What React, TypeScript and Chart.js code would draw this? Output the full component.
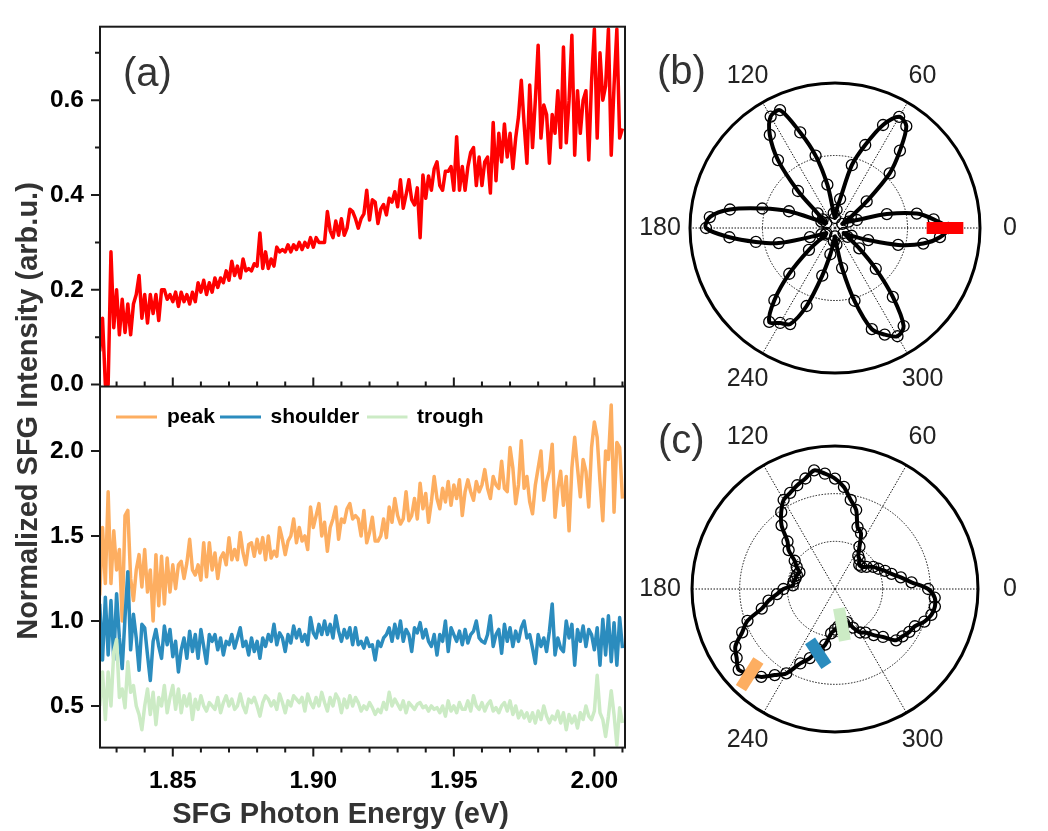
import React, { useEffect, useRef } from "react";
import { Chart, registerables } from "chart.js";

Chart.register(...registerables);

const energy = [
  1.824,1.825,1.826,1.827,1.828,1.829,1.83,1.831,1.832,1.833,
  1.834,1.835,1.836,1.837,1.838,1.839,1.84,1.841,1.842,1.843,
  1.844,1.845,1.846,1.847,1.848,1.849,1.85,1.851,1.852,1.853,
  1.854,1.855,1.856,1.857,1.858,1.859,1.86,1.861,1.862,1.863,
  1.864,1.865,1.866,1.867,1.868,1.869,1.87,1.871,1.872,1.873,
  1.874,1.875,1.876,1.877,1.878,1.879,1.88,1.881,1.882,1.883,
  1.884,1.885,1.886,1.887,1.888,1.889,1.89,1.891,1.892,1.893,
  1.894,1.895,1.896,1.897,1.898,1.899,1.9,1.901,1.902,1.903,
  1.904,1.905,1.906,1.907,1.908,1.909,1.91,1.911,1.912,1.913,
  1.914,1.915,1.916,1.917,1.918,1.919,1.92,1.921,1.922,1.923,
  1.924,1.925,1.926,1.927,1.928,1.929,1.93,1.931,1.932,1.933,
  1.934,1.935,1.936,1.937,1.938,1.939,1.94,1.941,1.942,1.943,
  1.944,1.945,1.946,1.947,1.948,1.949,1.95,1.951,1.952,1.953,
  1.954,1.955,1.956,1.957,1.958,1.959,1.96,1.961,1.962,1.963,
  1.964,1.965,1.966,1.967,1.968,1.969,1.97,1.971,1.972,1.973,
  1.974,1.975,1.976,1.977,1.978,1.979,1.98,1.981,1.982,1.983,
  1.984,1.985,1.986,1.987,1.988,1.989,1.99,1.991,1.992,1.993,
  1.994,1.995,1.996,1.997,1.998,1.999,2.0,2.001,2.002,2.003,
  2.004,2.005,2.006,2.007,2.008,2.009,2.01,
];

const sfgRed = [
  .07,.14,.00,.00,.28,.12,.20,.105,.18,.11,
  .17,.105,.17,.19,.23,.14,.19,.13,.19,.15,
  .19,.135,.20,.20,.18,.19,.175,.195,.165,.195,
  .175,.19,.17,.195,.175,.215,.195,.22,.19,.215,
  .195,.225,.205,.225,.215,.24,.22,.26,.23,.25,
  .225,.265,.24,.245,.24,.255,.25,.32,.245,.28,
  .245,.265,.25,.29,.28,.285,.28,.295,.28,.295,
  .285,.30,.285,.30,.29,.31,.29,.31,.30,.30,
  .30,.365,.325,.31,.345,.315,.35,.315,.33,.37,
  .365,.35,.33,.35,.36,.41,.347,.39,.385,.34,
  .37,.38,.358,.393,.385,.407,.375,.432,.372,.40,
  .432,.39,.379,.415,.31,.442,.393,.44,.41,.455,
  .47,.42,.41,.45,.45,.46,.41,.523,.41,.46,
  .41,.46,.49,.50,.42,.48,.42,.47,.48,.404,
  .553,.43,.53,.47,.55,.48,.53,.456,.52,.565,
  .642,.55,.467,.632,.50,.60,.716,.52,.59,.57,
  .467,.57,.53,.62,.50,.712,.51,.60,.737,.484,
  .62,.53,.60,.62,.474,.64,.75,.52,.70,.60,
  .63,.75,.484,.63,.75,.52,.54,
];

const peak = [
  1.15,1.55,1.22,1.76,1.22,1.53,1.30,1.42,1.00,1.62,
  1.65,1.25,1.12,1.30,1.39,1.20,1.42,1.17,1.30,1.00,
  1.39,1.09,1.38,1.10,1.37,1.17,1.33,1.19,1.33,1.35,
  1.25,1.34,1.48,1.30,1.27,1.33,1.24,1.46,1.26,1.46,
  1.30,1.40,1.25,1.37,1.40,1.33,1.49,1.36,1.42,1.36,
  1.52,1.40,1.33,1.45,1.46,1.38,1.48,1.40,1.49,1.36,
  1.50,1.37,1.41,1.38,1.55,1.48,1.39,1.47,1.50,1.60,
  1.46,1.55,1.47,1.50,1.42,1.67,1.55,1.62,1.69,1.50,
  1.58,1.41,1.55,1.60,1.67,1.48,1.60,1.58,1.66,1.69,
  1.60,1.62,1.60,1.50,1.65,1.46,1.52,1.61,1.47,1.47,
  1.50,1.60,1.49,1.67,1.58,1.72,1.62,1.57,1.60,1.76,
  1.59,1.62,1.72,1.60,1.81,1.66,1.75,1.58,1.70,1.85,
  1.72,1.66,1.78,1.70,1.82,1.68,1.80,1.72,1.83,1.62,
  1.76,1.83,1.76,1.71,1.82,1.76,1.80,1.89,1.78,1.72,
  1.85,1.80,1.78,1.94,1.78,1.76,2.02,1.90,1.69,1.80,
  2.06,1.78,1.85,1.70,1.63,1.80,1.90,2.00,1.71,1.82,
  1.88,2.04,1.61,1.78,1.88,1.68,1.85,1.53,1.90,2.08,
  1.90,1.73,1.95,1.88,1.67,2.02,2.17,2.08,1.82,1.59,
  2.00,1.95,2.27,1.64,2.05,2.02,1.72,
];

const shoulder = [
  1.10,.77,1.14,.80,1.12,.77,1.16,.90,.72,1.02,
  1.29,.83,1.04,.90,.71,.98,.96,.80,.65,.88,
  .95,.85,.78,.97,.86,.95,.79,.88,.70,.83,
  .90,.78,.94,.82,.92,.78,.95,.85,.75,.92,
  .88,.92,.83,.90,.80,.88,.86,.92,.84,.90,
  .96,.85,.88,.80,.90,.82,.88,.78,.90,.85,
  .92,.88,.98,.86,.93,.90,.82,.92,.87,.97,
  .90,.95,.88,.92,.86,1.02,.93,.90,.98,.92,
  1.00,.92,.98,.90,1.03,.94,.88,.95,.90,.96,
  .86,.96,.86,.88,.84,.90,.85,.86,.77,.88,
  .85,.90,.92,.96,.88,.98,.90,1.00,.88,.95,
  .92,.82,.96,.93,.99,.90,.95,.88,.85,.92,
  .80,.92,.88,1.00,.82,.96,.92,.88,.94,.86,
  .95,.87,.92,.94,1.00,.90,.88,.87,.92,1.03,
  .85,.92,.95,.81,.98,.88,.96,.85,.94,.88,
  .96,1.00,.90,.92,.84,.75,.92,.85,.90,.82,
  .94,1.10,.80,.90,.84,.82,1.00,.90,.98,.74,
  .95,.88,.97,.85,.95,.92,.83,.96,.74,1.01,
  .80,1.03,.76,.99,.74,1.02,.84,
];

const trough = [
  .50,.70,.42,.70,.50,.82,.89,.55,.60,.49,
  .76,.58,.62,.50,.45,.36,.50,.60,.45,.58,
  .39,.55,.50,.62,.46,.55,.62,.48,.60,.46,
  .56,.50,.57,.42,.54,.48,.56,.50,.47,.52,
  .50,.48,.55,.46,.52,.56,.50,.54,.48,.50,
  .57,.50,.46,.54,.52,.55,.50,.44,.52,.56,
  .54,.50,.53,.48,.57,.52,.46,.53,.50,.56,
  .54,.52,.55,.47,.57,.52,.49,.55,.50,.58,
  .52,.47,.55,.50,.57,.54,.46,.54,.49,.56,
  .50,.55,.52,.47,.50,.48,.52,.49,.45,.48,
  .46,.52,.48,.58,.50,.54,.51,.48,.53,.46,
  .52,.50,.48,.51,.52,.49,.50,.47,.50,.48,
  .49,.46,.50,.44,.53,.47,.50,.46,.52,.48,
  .48,.53,.47,.56,.50,.48,.52,.47,.51,.53,
  .47,.49,.46,.50,.52,.47,.53,.45,.50,.43,
  .47,.43,.46,.41,.46,.40,.47,.42,.50,.44,
  .40,.44,.42,.47,.40,.46,.36,.45,.40,.44,
  .37,.46,.42,.50,.44,.42,.47,.68,.46,.42,
  .32,.44,.59,.45,.27,.49,.40,
];

const RED = "#ff0000";
const ORANGE = "#fdae61";
const BLUE = "#2b8cbe";
const GREEN = "#ccebc5";

const energyTicks = [1.83,1.84,1.85,1.86,1.87,1.88,1.89,1.9,1.91,1.92,1.93,1.94,1.95,1.96,1.97,1.98,1.99,2.0,2.01];
const energyLabels = [1.85,1.9,1.95,2.0];
const redTicks = [0,0.1,0.2,0.3,0.4,0.5,0.6,0.7];
const redLabels = [0,0.2,0.4,0.6];
const normTicks = [0.5,1.0,1.5,2.0];

// angles run counter-clockwise from 0 in 5-degree steps
const polarAngles = [
  0,5,10,15,20,25,30,35,40,45,50,55,60,65,70,75,80,85,90,95,100,105,110,115,
  120,125,130,135,140,145,150,155,160,165,170,175,180,185,190,195,200,205,210,215,
  220,225,230,235,240,245,250,255,260,265,270,275,280,285,290,295,300,305,310,315,
  320,325,330,335,340,345,350,355,
];
const angleLabels = [0,60,120,180,240,300];

const polarB = [
  3.40,2.97,2.49,1.61,.70,.45,.25,.58,1.24,2.32,3.03,3.73,3.85,3.41,2.65,1.95,.88,.55,.30,.45,
  1.32,2.25,3.05,3.90,3.86,3.41,2.66,1.57,.68,.45,.30,.45,1.47,2.26,3.20,3.77,3.87,3.18,2.41,1.75,
  .80,.45,.30,.35,1.02,1.94,2.83,3.44,3.29,3.18,2.49,1.48,.80,.40,.25,.50,1.22,2.26,3.23,3.53,
  3.75,3.59,2.70,1.73,.95,.46,.30,.55,1.06,1.96,2.69,3.16,
];
const polarC = [
  2.80,2.31,2.01,1.76,1.60,1.44,1.33,1.16,1.04,1.03,1.15,1.22,1.47,1.85,1.98,2.46,2.72,3.08,3.32,3.48,
  3.62,3.44,3.32,3.19,3.09,2.82,2.50,2.02,1.82,1.48,1.33,1.18,1.22,1.23,1.26,1.27,1.55,1.75,2.03,2.28,
  2.80,3.08,3.46,3.61,3.78,3.61,3.45,3.16,2.93,2.47,2.21,1.89,1.70,1.34,1.22,1.13,1.10,1.06,1.06,1.28,
  1.51,1.60,1.81,2.04,2.40,2.48,2.58,2.65,2.86,3.00,3.05,3.01,
];
const ringsB = [0,2.175,4.35];
const ringsC = [0,1.433,2.867,4.3];

const barsB = [{ color: RED, a0: 0, r0: 2.75, a1: 0, r1: 3.85 }];
const barsC = [
  { color: ORANGE, a0: 223, r0: 3.15, a1: 226.5, r1: 4.11 },
  { color: BLUE, a0: 244.3, r0: 1.73, a1: 263.6, r1: 2.32 },
  { color: GREEN, a0: 281.7, r0: .59, a1: 280.9, r1: 1.58 },
];

const yTitle = "Normalized SFG Intensity (arb.u.)";
const xTitle = "SFG Photon Energy (eV)";

const FONT = '"Liberation Sans", Arial, sans-serif';
const INK = "#1a1a1a";
const TEXT = "#333333";

function series(values: number[]) {
  return energy.map((x, i) => ({ x, y: values[i] }));
}

function noScalePadding(s: any) {
  s.paddingTop = 0;
  s.paddingBottom = 0;
  s.paddingLeft = 0;
  s.paddingRight = 0;
}

const leftPlugin = {
  id: "leftFrame",
  afterDatasetsDraw(chart: any) {
    const { ctx, chartArea: a, scales } = chart;
    const { x, yA, yB } = scales;
    ctx.save();
    ctx.strokeStyle = INK;
    ctx.lineWidth = 2;
    ctx.strokeRect(a.left, a.top, a.right - a.left, a.bottom - a.top);
    ctx.beginPath();
    ctx.moveTo(a.left, yA.bottom);
    ctx.lineTo(a.right, yA.bottom);
    for (const t of yA.ticks) {
      const py = yA.getPixelForValue(t.value);
      ctx.moveTo(a.left, py);
      ctx.lineTo(a.left - (redLabels.includes(t.value) ? 9 : 5), py);
    }
    for (const t of yB.ticks) {
      const py = yB.getPixelForValue(t.value);
      ctx.moveTo(a.left, py);
      ctx.lineTo(a.left - 9, py);
    }
    for (const t of x.ticks) {
      const px = x.getPixelForValue(t.value);
      const len = energyLabels.includes(t.value) ? 9 : 5;
      ctx.moveTo(px, a.bottom);
      ctx.lineTo(px, a.bottom + len);
      ctx.moveTo(px, yA.bottom);
      ctx.lineTo(px, yA.bottom - len);
    }
    ctx.stroke();

    // legend
    const slots = [
      { x0: 116, x1: 157, tx: 167 },
      { x0: 220, x1: 261, tx: 270.5 },
      { x0: 367, x1: 407.5, tx: 417 },
    ];
    const ly = 417;
    ctx.font = `bold 21px ${FONT}`;
    ctx.textBaseline = "middle";
    ctx.textAlign = "left";
    chart.data.datasets.slice(1).forEach((d: any, i: number) => {
      const s = slots[i];
      ctx.strokeStyle = d.borderColor;
      ctx.lineWidth = 3;
      ctx.beginPath();
      ctx.moveTo(s.x0, ly);
      ctx.lineTo(s.x1, ly);
      ctx.stroke();
      ctx.fillStyle = "#000";
      ctx.fillText(d.label, s.tx, ly);
    });

    ctx.font = `40px ${FONT}`;
    ctx.fillStyle = TEXT;
    ctx.fillText("(a)", 123, 75);

    ctx.textAlign = "center";
    ctx.font = `bold 29px ${FONT}`;
    ctx.fillText(xTitle, 340.5, 815);

    ctx.translate(29, 411);
    ctx.rotate(-Math.PI / 2);
    ctx.fillText(yTitle, 0, 0);
    ctx.restore();
  },
};

function polarPlugin(bars: any[], panel: string, panelX: number, panelY: number) {
  return {
    id: "polarExtras",
    afterDatasetsDraw(chart: any) {
      const { ctx, scales } = chart;
      const s = scales.r;
      const at = (deg: number, dist: number) => s.getPointPosition(0, dist, (-deg * Math.PI) / 180);
      ctx.save();
      ctx.lineCap = "butt";
      for (const b of bars) {
        const p0 = at(b.a0, s.getDistanceFromCenterForValue(b.r0));
        const p1 = at(b.a1, s.getDistanceFromCenterForValue(b.r1));
        ctx.strokeStyle = b.color;
        ctx.lineWidth = 12;
        ctx.beginPath();
        ctx.moveTo(p0.x, p0.y);
        ctx.lineTo(p1.x, p1.y);
        ctx.stroke();
      }
      ctx.fillStyle = "#222";
      ctx.font = `25px ${FONT}`;
      ctx.textAlign = "center";
      ctx.textBaseline = "middle";
      for (const deg of angleLabels) {
        const p = at(deg, 175);
        ctx.fillText(String(deg), p.x, p.y);
      }
      ctx.font = `40px ${FONT}`;
      ctx.fillStyle = TEXT;
      ctx.textAlign = "left";
      ctx.fillText(panel, panelX, panelY);
      ctx.restore();
    },
  };
}

function clockwise(values: any[]) {
  return [values[0], ...values.slice(1).reverse()];
}

function polarConfig(values: number[], rings: number[], bars: any[], radius: number, panel: string, px: number, py: number) {
  const pad = 200 - radius;
  const outer = rings[rings.length - 1];
  return {
    type: "radar",
    data: {
      labels: clockwise(polarAngles).map(String),
      datasets: [
        {
          label: panel,
          data: clockwise(values),
          borderColor: "#000",
          borderWidth: 4,
          tension: 0.3,
          fill: false,
          pointRadius: 5.5,
          pointBorderWidth: 1.3,
          pointBorderColor: "#000",
          pointBackgroundColor: "rgba(0,0,0,0)",
        },
      ],
    },
    options: {
      responsive: false,
      animation: false,
      events: [],
      layout: { padding: pad, autoPadding: false },
      plugins: { legend: { display: false }, tooltip: { enabled: false } },
      scales: {
        r: {
          min: 0,
          max: outer,
          startAngle: 90,
          afterBuildTicks: (sc: any) => {
            sc.ticks = rings.map((value) => ({ value }));
          },
          ticks: { display: false },
          pointLabels: { display: false },
          angleLines: {
            display: true,
            color: (c: any) => (c.index % 12 === 0 ? "#111" : "rgba(0,0,0,0)"),
            lineWidth: (c: any) => (c.index % 12 === 0 ? 1 : 0),
            borderDash: [1.5, 1.5],
          },
          grid: {
            circular: true,
            color: (c: any) => (c.tick && c.tick.value === outer ? "#000" : "#111"),
            lineWidth: (c: any) => (c.tick && c.tick.value === outer ? 3 : 1),
          },
          border: {
            dash: (c: any) => (c.tick && c.tick.value === outer ? [] : [1.5, 1.5]),
          },
        },
      },
    },
    plugins: [polarPlugin(bars, panel, px, py)],
  };
}

const lineStyle = { borderWidth: 3.5, pointRadius: 0, borderJoinStyle: "round" };

const leftConfig: any = {
  type: "line",
  data: {
    datasets: [
      { label: "SFG", data: series(sfgRed), yAxisID: "yA", borderColor: RED, order: 4, ...lineStyle },
      { label: "peak", data: series(peak), yAxisID: "yB", borderColor: ORANGE, order: 3, ...lineStyle },
      { label: "shoulder", data: series(shoulder), yAxisID: "yB", borderColor: BLUE, order: 2, ...lineStyle },
      { label: "trough", data: series(trough), yAxisID: "yB", borderColor: GREEN, order: 1, ...lineStyle },
    ],
  },
  options: {
    responsive: false,
    animation: false,
    events: [],
    layout: { padding: { top: 26.7, right: 15, left: 0, bottom: 9 }, autoPadding: false },
    plugins: {
      legend: { display: false },
      tooltip: { enabled: false },
      title: { display: false },
    },
    scales: {
      x: {
        type: "linear",
        min: 1.8241,
        max: 2.0109,
        grid: { display: false, drawTicks: false },
        border: { display: false },
        afterBuildTicks: (s: any) => {
          s.ticks = energyTicks.map((value) => ({ value }));
        },
        afterFit: (s: any) => {
          s.height = 74.4;
          noScalePadding(s);
        },
        ticks: {
          autoSkip: false,
          maxRotation: 0,
          minRotation: 0,
          padding: 19,
          color: "#000",
          font: { family: FONT, size: 24.5, weight: "bold" },
          callback: (v: number) => (energyLabels.includes(v) ? v.toFixed(2) : ""),
        },
      },
      yB: {
        type: "linear",
        position: "left",
        stack: "left",
        stackWeight: 361.1,
        min: 0.255,
        max: 2.379,
        grid: { display: false, drawTicks: false },
        border: { display: false },
        afterBuildTicks: (s: any) => {
          s.ticks = normTicks.map((value) => ({ value }));
        },
        afterFit: (s: any) => {
          s.width = 100;
          noScalePadding(s);
        },
        ticks: {
          autoSkip: false,
          padding: 16,
          color: "#000",
          font: { family: FONT, size: 24.5, weight: "bold" },
          callback: (v: number) => v.toFixed(1),
        },
      },
      yA: {
        type: "linear",
        position: "left",
        stack: "left",
        stackWeight: 359.8,
        min: -0.004,
        max: 0.755,
        grid: { display: false, drawTicks: false },
        border: { display: false },
        afterBuildTicks: (s: any) => {
          s.ticks = redTicks.map((value) => ({ value }));
        },
        afterFit: (s: any) => {
          s.width = 100;
          noScalePadding(s);
        },
        ticks: {
          autoSkip: false,
          padding: 16,
          color: "#000",
          font: { family: FONT, size: 24.5, weight: "bold" },
          callback: (v: number) => (redLabels.includes(v) ? v.toFixed(1) : ""),
        },
      },
    },
  },
  plugins: [leftPlugin],
};

function ChartCanvas({ config, style, width, height }: any) {
  const ref = useRef<HTMLCanvasElement | null>(null);
  useEffect(() => {
    const chart = new Chart(ref.current as any, config);
    return () => chart.destroy();
  }, []);
  return <canvas ref={ref} width={width} height={height} style={{ position: "absolute", ...style }} />;
}

const configB: any = polarConfig(polarB, ringsB, barsB, 145, "(b)", 22, 45);
const configC: any = polarConfig(polarC, ringsC, barsC, 143.3, "(c)", 23, 53);

export default function App() {
  return (
    <div style={{ position: "absolute", left: 0, top: 0, width: 1048, height: 831, overflow: "hidden", background: "#fff" }}>
      <ChartCanvas config={leftConfig} width={640} height={831} style={{ left: 0, top: 0 }} />
      <ChartCanvas config={configB} width={400} height={400} style={{ left: 635, top: 28 }} />
      <ChartCanvas config={configC} width={400} height={400} style={{ left: 635, top: 389 }} />
    </div>
  );
}
